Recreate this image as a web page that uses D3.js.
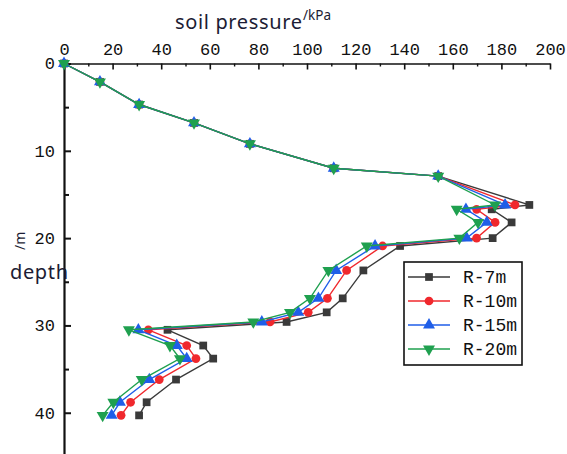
<!DOCTYPE html>
<html>
<head>
<meta charset="utf-8">
<script src="https://cdn.jsdelivr.net/npm/d3@7"></script>
<style>
  body { margin: 0; background: #fff; }
  svg { display: block; }
  .tick text { font-family: "Liberation Mono", monospace; font-size: 17px; fill: #111; }
</style>
</head>
<body>
<div id="chart"></div>
<script>
// depth (m) of each measuring point, shared by all series
const depth = [0, 2.1, 4.7, 6.8, 9.2, 12.0, 12.9, 16.2, 16.7, 18.2, 20.0, 20.9, 23.7, 26.9, 28.5, 29.6, 30.5, 32.3, 33.8, 36.2, 38.8, 40.3];

// soil pressure (kPa) per case
const pR7  = [0, 14.8, 30.9, 53.5, 76.5, 111, 154, 191.5, 176, 184.2, 176.4, 138.3, 123.2, 114.7, 108.1, 91.6, 42.6, 57.3, 61.4, 46.1, 34.0, 30.9];
const pR10 = [0, 14.8, 30.9, 53.5, 76.5, 111, 154, 185.6, 169.8, 177.4, 169.8, 131.1, 116.3, 108.4, 100.5, 84.8, 34.7, 50.5, 54.3, 39.2, 27.4, 23.5];
const pR15 = [0, 14.8, 30.9, 53.5, 76.5, 111, 154, 181.5, 165.4, 174.0, 165.7, 128.0, 112.0, 104.7, 96.4, 81.4, 30.6, 46.4, 50.5, 35.1, 23.0, 19.6];
const pR20 = [0, 14.8, 30.9, 53.5, 76.5, 111, 154, 177.4, 161.6, 170.4, 162.7, 124.6, 108.8, 101.2, 93.0, 77.9, 26.7, 43.6, 47.7, 32.0, 20.3, 15.9];

const seriesNames = ['R-7m', 'R-10m', 'R-15m', 'R-20m'];
const seriesValues = [pR7, pR10, pR15, pR20];

const xMajor = [0, 20, 40, 60, 80, 100, 120, 140, 160, 180, 200];
const xMinor = [10, 30, 50, 70, 90, 110, 130, 150, 170, 190];
const yMajor = [0, 10, 20, 30, 40];
const yMinor = [5, 15, 25, 35];

const colors = ['#3a3a3a', '#f0282d', '#1f5ee8', '#1fa04f'];
const shapes = [d3.symbolSquare, d3.symbolCircle, d3.symbolTriangle, d3.symbolTriangle];
const shapeSize = [60, 60, 62, 62];
const shapeRot = [0, 0, 0, 180];

const width = 567, height = 454;

const svg = d3.select('#chart').append('svg')
    .attr('width', width)
    .attr('height', height);

const x = d3.scaleLinear().domain([0, 200]).range([64, 550]);
const y = d3.scaleLinear().domain([0, 45]).range([63.5, 456.4]);

// top axis
const xAxis = svg.append('g')
    .attr('transform', `translate(0,${y(0)})`)
    .call(d3.axisTop(x).tickValues(xMajor).tickSize(-6).tickPadding(9).tickSizeOuter(0));
xAxis.select('.domain').attr('stroke-width', 1.6).attr('stroke', '#111');
xAxis.selectAll('.tick line').attr('stroke-width', 1.6).attr('stroke', '#111');

svg.append('g')
    .attr('transform', `translate(0,${y(0)})`)
    .call(d3.axisTop(x).tickValues(xMinor).tickSize(-3).tickFormat(''))
    .call(g => g.select('.domain').remove())
    .selectAll('.tick line').attr('stroke-width', 1.4).attr('stroke', '#111');

// left axis
const yAxis = svg.append('g')
    .attr('transform', `translate(${x(0)},0)`)
    .call(d3.axisLeft(y).tickValues(yMajor).tickSize(-7).tickPadding(9).tickSizeOuter(0));
yAxis.select('.domain').attr('stroke-width', 2.2).attr('stroke', '#111');
yAxis.selectAll('.tick line').attr('stroke-width', 2).attr('stroke', '#111');

svg.append('g')
    .attr('transform', `translate(${x(0)},0)`)
    .call(d3.axisLeft(y).tickValues(yMinor).tickSize(-5).tickFormat(''))
    .call(g => g.select('.domain').remove())
    .selectAll('.tick line').attr('stroke-width', 2).attr('stroke', '#111');

// axis titles
svg.append('text')
    .attr('x', 175).attr('y', 29)
    .attr('font-family', '"Noto Sans", sans-serif')
    .attr('font-size', 20)
    .attr('fill', '#1c1c34')
    .attr('textLength', 127)
    .text('soil pressure');
svg.append('text')
    .attr('x', 303).attr('y', 20)
    .attr('font-family', '"Noto Sans", sans-serif')
    .attr('font-size', 13.5)
    .attr('fill', '#1c1c34')
    .text('/kPa');

svg.append('text')
    .attr('x', 10).attr('y', 279)
    .attr('font-family', '"Noto Sans", sans-serif')
    .attr('font-size', 20)
    .attr('fill', '#1c1c34')
    .attr('textLength', 58)
    .text('depth');
svg.append('text')
    .attr('transform', 'translate(25,250) rotate(-90)')
    .attr('font-family', '"Noto Sans", sans-serif')
    .attr('font-size', 14)
    .attr('fill', '#1c1c34')
    .text('/m');

// series
const line = d3.line()
    .x(d => x(d[0]))
    .y(d => y(d[1]));

seriesValues.forEach((vals, i) => {
    const pts = vals.map((v, j) => [v, depth[j]]);
    const g = svg.append('g');
    g.append('path')
        .datum(pts)
        .attr('fill', 'none')
        .attr('stroke', colors[i])
        .attr('stroke-width', 1.4)
        .attr('d', line);
    g.selectAll('path.mk')
        .data(pts)
        .join('path')
        .attr('class', 'mk')
        .attr('transform', d => `translate(${x(d[0])},${y(d[1])}) rotate(${shapeRot[i]})`)
        .attr('d', d3.symbol().type(shapes[i]).size(shapeSize[i]))
        .attr('fill', colors[i]);
});

// legend
const legend = svg.append('g').attr('transform', 'translate(404,262)');
legend.append('rect')
    .attr('width', 118).attr('height', 103)
    .attr('fill', '#fff')
    .attr('stroke', '#111')
    .attr('stroke-width', 1.6);

seriesNames.forEach((name, i) => {
    const row = legend.append('g').attr('transform', `translate(0,${15 + i * 24})`);
    row.append('line')
        .attr('x1', 4).attr('x2', 46)
        .attr('stroke', colors[i]).attr('stroke-width', 1.4);
    row.append('path')
        .attr('transform', `translate(25,0) rotate(${shapeRot[i]})`)
        .attr('d', d3.symbol().type(shapes[i]).size(shapeSize[i]))
        .attr('fill', colors[i]);
    row.append('text')
        .attr('x', 59).attr('y', 6)
        .attr('font-family', '"Liberation Mono", monospace')
        .attr('font-size', 18)
        .attr('fill', '#111')
        .text(name);
});
</script>
</body>
</html>
